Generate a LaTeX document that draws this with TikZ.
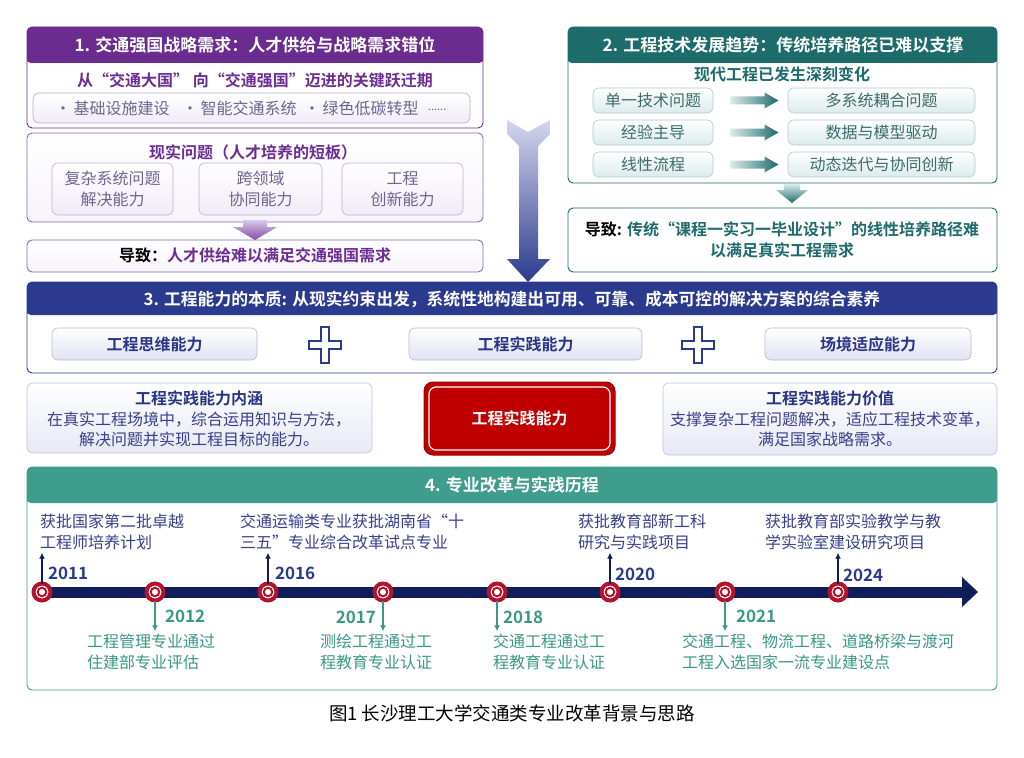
\documentclass[tikz,border=0pt]{standalone}
\usepackage{fontspec}
\setmainfont{Noto Sans CJK SC}[BoldFont={Noto Sans CJK SC Bold}]
\usetikzlibrary{calc,arrows.meta}
\definecolor{pur}{HTML}{6A2C8E}
\definecolor{purtxt}{HTML}{6B2D91}
\definecolor{purbd}{HTML}{8C6BB0}
\definecolor{purgray}{HTML}{6E6590}
\definecolor{lilac}{HTML}{F0EBF6}
\definecolor{purlight}{HTML}{D9C8EC}
\definecolor{tealD}{HTML}{1E6B6B}
\definecolor{tealgray}{HTML}{3D6B6B}
\definecolor{teallight}{HTML}{DCEBEB}
\definecolor{navyH}{HTML}{2B3A8E}
\definecolor{navytxt}{HTML}{2B3585}
\definecolor{navygray}{HTML}{3A3F8A}
\definecolor{navylight}{HTML}{D3D6EC}
\definecolor{tealH}{HTML}{3F9D8D}
\definecolor{tealtxt}{HTML}{3A9886}
\definecolor{tlnavy}{HTML}{0F1E5A}
\definecolor{tred}{HTML}{B5122B}
\definecolor{boxred}{HTML}{C00000}
\begin{document}
\begin{tikzpicture}[x=1pt,y=-1pt,
  every node/.style={inner sep=0pt,outer sep=0pt},
  f16/.style={font=\fontsize{16}{20.5}\selectfont},
  f16b/.style={font=\fontsize{16}{20.5}\selectfont\bfseries},
  hdr/.style={font=\fontsize{17}{21}\selectfont\bfseries,text=white},
  hpanel/.style 2 args={draw=#1,line width=0.9pt,rounded corners=5pt,fill=white,anchor=north west,
    path picture={\fill[#1] ([yshift=1pt,xshift=-1pt]path picture bounding box.north west) rectangle ([yshift=-#2,xshift=1pt]path picture bounding box.north east);}},
  subpanel/.style={draw=#1,line width=0.9pt,rounded corners=5pt,top color=white,bottom color=lilac!60,anchor=north west},
  gbox/.style 2 args={draw=#1,line width=0.6pt,rounded corners=6pt,top color=white,bottom color=#2,anchor=north west},
  tout/.style={circle,minimum size=17pt,draw=tred,line width=4pt,fill=white},
  tin/.style={circle,minimum size=8.5pt,draw=tred,line width=2pt,fill=white},
  uparr/.style={draw=tlnavy,line width=2pt,-{Latex[length=6pt,width=6pt]},shorten >=3pt},
  dnarr/.style={draw=tealtxt,line width=2pt,-{Latex[length=6pt,width=6pt]},shorten >=3pt},
  evup/.style={f16,text=navygray,align=left,anchor=west},
  evdn/.style={f16,text=tealtxt,align=left,anchor=west},
  yrup/.style={font=\fontsize{17}{20}\selectfont\bfseries,text=navyH},
  yrdn/.style={font=\fontsize{17}{20}\selectfont\bfseries,text=tealtxt},
  plusst/.style={draw=navyH,line width=1.6pt,fill=white,line join=miter}
]
\useasboundingbox (0,0) rectangle (1024,757);
\fill[white] (0,0) rectangle (1024,757);

% ---------------- Panel 1 ----------------
\node[hpanel={pur}{36pt},minimum width=456pt,minimum height=101pt] (p1a) at (27,27) {};
\node[hdr] (h1) at (255,45) {1. 交通强国战略需求：人才供给与战略需求错位};
\node[f16b,text=purtxt] (s1) at (255,80) {从“交通大国” 向“交通强国”迈进的关键跃迁期};
\node[gbox={purbd!60}{lilac},minimum width=437pt,minimum height=30pt] (bb) at (33,93) {};
\node[f16,text=purgray,anchor=west] (b1) at (55,108) {·\,基础设施建设};
\node[f16,text=purgray,anchor=west] (b2) at (182,108) {·\,智能交通系统};
\node[f16,text=purgray,anchor=west] (b3) at (304,108) {·\,绿色低碳转型};
\node[font=\fontsize{11}{12}\selectfont,text=purgray,anchor=west] (b4) at (428,110) {......};

\node[subpanel=purbd,minimum width=456pt,minimum height=89pt] (p1b) at (27,133) {};
\node[f16b,text=purtxt] (s2) at (253,152) {现实问题（人才培养的短板）};
\node[gbox={purbd!55}{lilac},minimum width=121pt,minimum height=52pt] (q1) at (52,163) {};
\node[gbox={purbd!55}{lilac},minimum width=123pt,minimum height=52pt] (q2) at (199,163) {};
\node[gbox={purbd!55}{lilac},minimum width=121pt,minimum height=52pt] (q3) at (342,163) {};
\node[f16,text=purgray,align=center] (q1t) at (q1.center) {复杂系统问题\\解决能力};
\node[f16,text=purgray,align=center] (q2t) at (q2.center) {跨领域\\协同能力};
\node[f16,text=purgray,align=center] (q3t) at (q3.center) {工程\\创新能力};

\shade[top color=purlight,bottom color=pur!85] (243,220) -- (267,220) -- (267,227) -- (277,227) -- (255,240) -- (233,227) -- (243,227) -- cycle;

\node[subpanel=purbd,minimum width=456pt,minimum height=32pt] (p1c) at (27,240) {};
\node[f16b] (r1) at (255,255) {\textcolor{black}{导致：}\textcolor{purtxt}{人才供给难以满足交通强国需求}};

% ---------------- Panel 2 ----------------
\node[hpanel={tealD}{36pt},minimum width=429pt,minimum height=156pt] (p2a) at (568,27) {};
\node[hdr] (h2) at (783,45) {2. 工程技术发展趋势：传统培养路径已难以支撑};
\node[f16b,text=tealD] (s3) at (782,74) {现代工程已发生深刻变化};
\foreach \i/\y/\l/\r in {1/88/单一技术问题/多系统耦合问题,2/120/经验主导/数据与模型驱动,3/152/线性流程/动态迭代与协同创新}{
  \node[gbox={tealD!35}{teallight},minimum width=120pt,minimum height=25pt] (l\i) at (593,\y) {};
  \node[gbox={tealD!35}{teallight},minimum width=187pt,minimum height=25pt] (r\i) at (788,\y) {};
  \node[f16,text=tealgray] (lt\i) at (l\i.center) {\l};
  \node[f16,text=tealgray] (rt\i) at (r\i.center) {\r};
  \coordinate (a\i) at ($(l\i.east)!0.5!(r\i.west)$);
  \begin{scope}[shift={(a\i)}]
    \shade[left color=teallight,right color=tealD] (-20,-4) -- (14,-4) -- (14,-8) -- (28,0) -- (14,8) -- (14,4) -- (-20,4) -- cycle;
  \end{scope}
}
\shade[top color=teallight,bottom color=tealD] (784,184) -- (800,184) -- (800,190) -- (808,190) -- (792,203) -- (776,190) -- (784,190) -- cycle;
\node[subpanel=tealD,bottom color=white,minimum width=429pt,minimum height=64pt] (p2b) at (568,208) {};
\node[f16b,align=center] (r2) at (782,240) {\textcolor{black}{导致:} \textcolor{tealD}{传统“课程一实习一毕业设计”的线性培养路径难}\\\textcolor{tealD}{以满足真实工程需求}};

% ---------------- Big arrow ----------------
\shade[top color=navylight,middle color=navyH!75,bottom color=navyH] (507,120) -- (528,132) -- (550,120) -- (550,134) -- (538,146) -- (538,259) -- (550,259) -- (528,282) -- (507,259) -- (519,259) -- (519,146) -- (507,134) -- cycle;

% ---------------- Panel 3 ----------------
\node[hpanel={navyH}{33pt},minimum width=970pt,minimum height=91pt] (p3a) at (27,282) {};
\node[hdr,font=\fontsize{16.8}{21}\selectfont\bfseries] (h3) at (512,299) {3. 工程能力的本质: 从现实约束出发，系统性地构建出可用、可靠、成本可控的解决方案的综合素养};
\node[gbox={navyH!35}{navylight!70},minimum width=205pt,minimum height=32pt] (c1) at (52,328) {};
\node[gbox={navyH!35}{navylight!70},minimum width=233pt,minimum height=32pt] (c2) at (409,328) {};
\node[gbox={navyH!35}{navylight!70},minimum width=206pt,minimum height=32pt] (c3) at (765,328) {};
\node[f16b,text=navytxt] (c1t) at (c1.center) {工程思维能力};
\node[f16b,text=navytxt] (c2t) at (c2.center) {工程实践能力};
\node[f16b,text=navytxt] (c3t) at (c3.center) {场境适应能力};
\foreach \cx in {325,698}{
  \draw[plusst] (\cx-4,327) -- (\cx+4,327) -- (\cx+4,341) -- (\cx+16,341) -- (\cx+16,349) -- (\cx+4,349) -- (\cx+4,363) -- (\cx-4,363) -- (\cx-4,349) -- (\cx-16,349) -- (\cx-16,341) -- (\cx-4,341) -- cycle;
}

\node[gbox={navyH!30}{navylight!55},minimum width=345pt,minimum height=70pt] (d1) at (27,383) {};
\node[f16,text=navygray,align=center] (d1t) at (199,419) {\textcolor{navytxt}{\bfseries 工程实践能力内涵}\\在真实工程场境中，综合运用知识与方法，\\解决问题并实现工程目标的能力。};
\node[draw=boxred!85!black,line width=1pt,fill=boxred,rounded corners=9pt,anchor=north west,minimum width=191pt,minimum height=73pt] (core) at (424,382) {};
\node[draw=white,line width=1.2pt,rounded corners=7pt,minimum width=181pt,minimum height=63pt] (corein) at (core.center) {};
\node[f16b,text=white] (coret) at (core.center) {工程实践能力};
\node[gbox={navyH!30}{navylight!55},minimum width=334pt,minimum height=72pt] (d2) at (663,383) {};
\node[f16,text=navygray,align=center] (d2t) at (830,419) {\textcolor{navytxt}{\bfseries 工程实践能力价值}\\支撑复杂工程问题解决，适应工程技术变革，\\满足国家战略需求。};

% ---------------- Panel 4 ----------------
\node[hpanel={tealH}{36pt},minimum width=970pt,minimum height=223pt] (p4) at (27,467) {};
\node[hdr] (h4) at (512,485) {4. 专业改革与实践历程};
\coordinate (tls) at (42,592);
\coordinate (tle) at (964,592);
\draw[tlnavy,line width=11pt] (tls) -- (tle);
\fill[tlnavy] (962,577) -- (978,592) -- (962,607) -- cycle;
\foreach \i/\x in {1/42,2/155,3/268,4/383,5/497,6/610,7/725,8/838}{
  \node[tout] (t\i) at (\x,592) {};
  \node[tin] (ti\i) at (t\i) {};
}
% events above
\node[evup] (e2011) at (40,532) {获批国家第二批卓越\\工程师培养计划};
\node[evup] (e2016) at (240,532) {交通运输类专业获批湖南省“十\\三五”专业综合改革试点专业};
\node[evup] (e2020) at (578,532) {获批教育部新工科\\研究与实践项目};
\node[evup] (e2024) at (765,532) {获批教育部实验教学与教\\学实验室建设研究项目};
\draw[uparr] (t1.north) -- (t1.north |- e2011.south);
\draw[uparr] (t3.north) -- (t3.north |- e2016.south);
\draw[uparr] (t6.north) -- (t6.north |- e2020.south);
\draw[uparr] (t8.north) -- (t8.north |- e2024.south);
\node[yrup,anchor=west] (y2011) at (48,573) {2011};
\node[yrup,anchor=west] (y2016) at (275,573) {2016};
\node[yrup,anchor=west] (y2020) at (615,574) {2020};
\node[yrup,anchor=west] (y2024) at (843,575) {2024};
% events below
\node[evdn] (e2012) at (87,652) {工程管理专业通过\\住建部专业评估};
\node[evdn] (e2017) at (320,652) {测绘工程通过工\\程教育专业认证};
\node[evdn] (e2018) at (493,652) {交通工程通过工\\程教育专业认证};
\node[evdn] (e2021) at (682,652) {交通工程、物流工程、道路桥梁与渡河\\工程入选国家一流专业建设点};
\draw[dnarr] (t2.south) -- (t2.south |- e2012.north);
\draw[dnarr] (t4.south) -- (t4.south |- e2017.north);
\draw[dnarr] (t5.south) -- (t5.south |- e2018.north);
\draw[dnarr] (t7.south) -- (t7.south |- e2021.north);
\node[yrdn,anchor=west] (y2012) at (165,616) {2012};
\node[yrdn,anchor=east] (y2017) at (376,617) {2017};
\node[yrdn,anchor=west] (y2018) at (503,617) {2018};
\node[yrdn,anchor=west] (y2021) at (736,616) {2021};

% caption
\node[font=\fontsize{18.5}{22}\selectfont,text=black] (cap) at (512,713) {图1 长沙理工大学交通类专业改革背景与思路};
\end{tikzpicture}
\end{document}
